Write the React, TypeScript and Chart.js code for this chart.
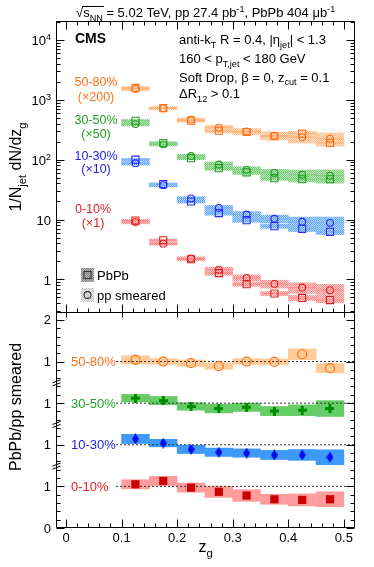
import React, { useEffect, useRef } from "react";
import { Chart, registerables } from "chart.js";

Chart.register(...registerables);

// ---------------- data ----------------
const BIN_CENTERS = [0.125, 0.175, 0.225, 0.275, 0.325, 0.375, 0.425, 0.475];
const BIN_WIDTH = 0.05;
const X_TICKS = [0, 0.1, 0.2, 0.3, 0.4, 0.5];

const CENT_LABELS = ["0-10%", "10-30%", "30-50%", "50-80%"];
const SCALE_LABELS = ["(×1)", "(×10)", "(×50)", "(×200)"];
const SCALE_FACTORS = [1, 10, 50, 200];

// 1/Njet dN/dzg (unscaled)
const PBPB_0_10 = [9.6, 4.5, 2.17, 1.27, 0.83, 0.58, 0.49, 0.45];
const PP_0_10 = [9.1, 3.95, 2.23, 1.45, 1.06, 0.84, 0.73, 0.66];
const PBPB_10_30 = [10.0, 3.9, 2.0, 1.28, 0.975, 0.774, 0.699, 0.623];
const PP_10_30 = [8.7, 3.75, 2.25, 1.56, 1.21, 1.03, 0.915, 0.88];
const PBPB_30_50 = [8.94, 3.8, 2.12, 1.44, 1.23, 0.98, 0.94, 0.94];
const PP_30_50 = [7.86, 3.6, 2.3, 1.66, 1.36, 1.2, 1.12, 1.08];
const PBPB_50_80 = [7.9, 3.64, 2.24, 1.52, 1.45, 1.23, 1.36, 0.95];
const PP_50_80 = [7.6, 3.6, 2.32, 1.71, 1.48, 1.26, 1.18, 1.12];

// relative systematic uncertainties (upper panel boxes)
const PBPB_SYS = [0.05, 0.05, 0.06, 0.08, 0.08, 0.08, 0.1, 0.1];
const PP_SYS = [0.07, 0.06, 0.07, 0.1, 0.12, 0.15, 0.2, 0.25];

// PbPb / pp smeared ratios
const RATIO_0_10 = [1.05, 1.13, 0.97, 0.87, 0.78, 0.69, 0.675, 0.69];
const RATIO_10_30 = [1.14, 1.04, 0.89, 0.82, 0.8, 0.755, 0.755, 0.7];
const RATIO_30_50 = [1.12, 1.06, 0.92, 0.87, 0.9, 0.81, 0.83, 0.87];
const RATIO_50_80 = [1.04, 1.0, 0.96, 0.89, 1.0, 0.99, 1.175, 0.84];

// ratio systematic half-heights
const RATIO_SYS_0_10 = [0.11, 0.11, 0.11, 0.135, 0.14, 0.12, 0.145, 0.18];
const RATIO_SYS_10_30 = [0.11, 0.09, 0.1, 0.1, 0.1, 0.11, 0.13, 0.18];
const RATIO_SYS_30_50 = [0.09, 0.1, 0.09, 0.105, 0.1, 0.11, 0.13, 0.19];
const RATIO_SYS_50_80 = [0.1, 0.07, 0.08, 0.075, 0.07, 0.07, 0.13, 0.11];

const RATIO_OFFSETS = [0, 1, 2, 3];
const RATIO_TICK_VALUES = [0, 1, 2, 3, 4, 5];
const RATIO_TICK_LABELS = ["0", "1", "1", "1", "1", "2"];
const RATIO_BREAKS = [1.5, 2.5, 3.5];

const LOG_TICK_VALUES = [1, 10, 100, 1000, 10000];
const LOG_TICK_BASES = ["1", "10", "10", "10", "10"];
const LOG_TICK_EXPS = ["", "", "2", "3", "4"];

// axis ranges
const X_MIN = -0.018;
const X_MAX = 0.52;
const UPPER_Y_MIN = 0.293;
const UPPER_Y_MAX = 20750;
const RATIO_MAX = 5.19;

const PBPB_DATA = [PBPB_0_10, PBPB_10_30, PBPB_30_50, PBPB_50_80];
const PP_DATA = [PP_0_10, PP_10_30, PP_30_50, PP_50_80];
const RATIO_DATA = [RATIO_0_10, RATIO_10_30, RATIO_30_50, RATIO_50_80];
const RATIO_SYS = [RATIO_SYS_0_10, RATIO_SYS_10_30, RATIO_SYS_30_50, RATIO_SYS_50_80];

// ---------------- layout / style ----------------
const W = 374;
const H = 567;
const AREA = { left: 56, right: 355, top: 21, bottom: 528 };
const UPPER_PX = 291;
const LOWER_PX = 216;
const FONT = '"Liberation Sans", Arial, Helvetica, sans-serif';

const STYLES = [
  { text: "#e02020", marker: "#e02020", dotA: "#ff8a8a", dotB: "#ffd0d0", line: "#ff8a8a", rBox: "#ff9c9c", rMarker: "#cc0000" },
  { text: "#2020e8", marker: "#2a2aff", dotA: "#59a3ff", dotB: "#bcd9ff", line: "#7fb4ff", rBox: "#3d9bf7", rMarker: "#0a0aee" },
  { text: "#22a022", marker: "#22a022", dotA: "#70c870", dotB: "#c6ebc6", line: "#7ccf7c", rBox: "#66cc66", rMarker: "#008a00" },
  { text: "#ff6e14", marker: "#ff6e14", dotA: "#ffb985", dotB: "#ffe3cc", line: "#ffb070", rBox: "#ffcc99", rMarker: "#ff6e14" },
];
// label baselines (pixels) for the upper-panel centrality captions
const UPPER_LABEL_POS = [
  { x: 93, y1: 213, y2: 227 },
  { x: 96, y1: 160, y2: 173 },
  { x: 96, y1: 124, y2: 138 },
  { x: 96, y1: 86, y2: 101 },
];

type Seg = { t: string; k?: "sub" | "sup"; over?: boolean };

function segFont(size: number, k: Seg["k"], weight: string) {
  const s = k ? size * 0.7 : size;
  return `${weight} ${s.toFixed(2)}px ${FONT}`;
}

function drawRich(
  ctx: CanvasRenderingContext2D,
  segs: Seg[],
  x: number,
  y: number,
  size: number,
  align: "left" | "center" | "right" = "left",
  color = "#000",
  weight = "normal"
) {
  ctx.save();
  ctx.fillStyle = color;
  ctx.strokeStyle = color;
  ctx.textBaseline = "alphabetic";
  ctx.textAlign = "left";
  let w = 0;
  const widths: number[] = [];
  for (const s of segs) {
    ctx.font = segFont(size, s.k, weight);
    const m = ctx.measureText(s.t).width;
    widths.push(m);
    w += m;
  }
  let cx = align === "center" ? x - w / 2 : align === "right" ? x - w : x;
  let o0: number | null = null;
  let o1 = 0;
  segs.forEach((s, i) => {
    ctx.font = segFont(size, s.k, weight);
    const dy = s.k === "sub" ? size * 0.3 : s.k === "sup" ? -size * 0.42 : 0;
    ctx.fillText(s.t, cx, y + dy);
    if (s.over) {
      if (o0 === null) o0 = cx;
      o1 = cx + widths[i];
    }
    cx += widths[i];
  });
  if (o0 !== null) {
    ctx.lineWidth = 1;
    ctx.beginPath();
    const oy = Math.round(y - size * 0.86) + 0.5;
    ctx.moveTo(o0 - 1, oy);
    ctx.lineTo(o1 + 1, oy);
    ctx.stroke();
  }
  ctx.restore();
}

function makePattern(a: string, b: string): CanvasPattern | string {
  const c = document.createElement("canvas");
  c.width = 2;
  c.height = 2;
  const g = c.getContext("2d")!;
  g.fillStyle = b;
  g.fillRect(0, 0, 2, 2);
  g.fillStyle = a;
  g.fillRect(0, 0, 1, 1);
  g.fillRect(1, 1, 1, 1);
  return g.createPattern(c, "repeat") || a;
}

function makeCross(color: string) {
  const c = document.createElement("canvas");
  c.width = 9;
  c.height = 9;
  const g = c.getContext("2d")!;
  g.fillStyle = color;
  g.fillRect(0, 3, 9, 3);
  g.fillRect(3, 0, 3, 9);
  return c;
}

function makeDiamond(color: string) {
  const c = document.createElement("canvas");
  c.width = 7;
  c.height = 11;
  const g = c.getContext("2d")!;
  g.fillStyle = color;
  g.beginPath();
  g.moveTo(3.5, 0);
  g.lineTo(7, 5.5);
  g.lineTo(3.5, 11);
  g.lineTo(0, 5.5);
  g.closePath();
  g.fill();
  return c;
}

const halfBinPx = (c: any) => {
  const s = c.chart.scales.x;
  return s ? Math.abs(s.getPixelForValue(BIN_WIDTH) - s.getPixelForValue(0)) / 2 : 14;
};

function buildDatasets(): any[] {
  const ds: any[] = [];
  CENT_LABELS.forEach((lab, i) => {
    const st = STYLES[i];
    const f = SCALE_FACTORS[i];
    const pat = makePattern(st.dotA, st.dotB);
    const pb = PBPB_DATA[i];
    const pp = PP_DATA[i];
    const barCommon = {
      type: "bar",
      xAxisID: "x",
      yAxisID: "yTop",
      grouped: false,
      barPercentage: 1,
      categoryPercentage: 1,
      borderWidth: 0,
      backgroundColor: pat,
    };
    ds.push({
      ...barCommon,
      label: `${lab} pp sys`,
      order: 6,
      data: BIN_CENTERS.map((x, j) => ({ x, y: [pp[j] * f * (1 - PP_SYS[j]), pp[j] * f * (1 + PP_SYS[j])] })),
    });
    ds.push({
      ...barCommon,
      label: `${lab} PbPb sys`,
      order: 5,
      data: BIN_CENTERS.map((x, j) => ({ x, y: [pb[j] * f * (1 - PBPB_SYS[j]), pb[j] * f * (1 + PBPB_SYS[j])] })),
    });
    const lineCommon = {
      type: "scatter",
      xAxisID: "x",
      yAxisID: "yTop",
      order: 4,
      pointStyle: "line",
      pointRadius: halfBinPx,
      pointBorderColor: st.line,
      pointBorderWidth: 1,
    };
    ds.push({ ...lineCommon, label: `${lab} PbPb xerr`, data: BIN_CENTERS.map((x, j) => ({ x, y: pb[j] * f })) });
    ds.push({ ...lineCommon, label: `${lab} pp xerr`, data: BIN_CENTERS.map((x, j) => ({ x, y: pp[j] * f })) });
    ds.push({
      type: "scatter",
      label: `${lab} PbPb`,
      xAxisID: "x",
      yAxisID: "yTop",
      order: 1,
      pointStyle: "rect",
      pointRadius: 5,
      pointBorderColor: st.marker,
      pointBackgroundColor: "rgba(0,0,0,0)",
      pointBorderWidth: 1.1,
      data: BIN_CENTERS.map((x, j) => ({ x, y: pb[j] * f })),
    });
    ds.push({
      type: "scatter",
      label: `${lab} pp smeared`,
      xAxisID: "x",
      yAxisID: "yTop",
      order: 1,
      pointStyle: "circle",
      pointRadius: 3.4,
      pointBorderColor: st.marker,
      pointBackgroundColor: "rgba(0,0,0,0)",
      pointBorderWidth: 1.1,
      data: BIN_CENTERS.map((x, j) => ({ x, y: pp[j] * f })),
    });

    // ratio panel
    const off = RATIO_OFFSETS[i];
    const r = RATIO_DATA[i];
    const rs = RATIO_SYS[i];
    ds.push({
      type: "bar",
      label: `${lab} ratio sys`,
      xAxisID: "x",
      yAxisID: "yRatio",
      grouped: false,
      barPercentage: 1,
      categoryPercentage: 1,
      borderWidth: 0,
      backgroundColor: st.rBox,
      order: 6,
      data: BIN_CENTERS.map((x, j) => ({ x, y: [off + r[j] - rs[j], off + r[j] + rs[j]] })),
    });
    ds.push({
      type: "line",
      label: `${lab} unity`,
      xAxisID: "x",
      yAxisID: "yRatio",
      order: 3,
      borderColor: "#333",
      borderWidth: 1,
      borderDash: [2, 2],
      pointRadius: 0,
      fill: false,
      data: [
        { x: 0.09, y: off + 1 },
        { x: X_MAX, y: off + 1 },
      ],
    });
    let markerOpts: any;
    if (i === 0) {
      markerOpts = { pointStyle: "rect", pointRadius: 5.8, pointBackgroundColor: st.rMarker, pointBorderColor: st.rMarker, pointBorderWidth: 0 };
    } else if (i === 1) {
      markerOpts = { pointStyle: makeDiamond(st.rMarker), pointRadius: 5 };
    } else if (i === 2) {
      markerOpts = { pointStyle: makeCross(st.rMarker), pointRadius: 5 };
    } else {
      markerOpts = { pointStyle: "circle", pointRadius: 4.5, pointBackgroundColor: "rgba(0,0,0,0)", pointBorderColor: st.rMarker, pointBorderWidth: 1.2 };
    }
    ds.push({
      type: "scatter",
      label: `${lab} ratio`,
      xAxisID: "x",
      yAxisID: "yRatio",
      order: 0,
      ...markerOpts,
      data: BIN_CENTERS.map((x, j) => ({ x, y: off + r[j] })),
    });
  });
  return ds;
}

const decorPlugin = {
  id: "decor",
  afterDraw(chart: any) {
    const ctx: CanvasRenderingContext2D = chart.ctx;
    const { left, right, top, bottom } = chart.chartArea;
    const xs = chart.scales.x;
    const yt = chart.scales.yTop;
    const yr = chart.scales.yRatio;
    const split = Math.round(yr.getPixelForValue(RATIO_MAX));
    const L = Math.round(left) + 0.5;
    const R = Math.round(right) - 0.5;
    const T = Math.round(top) + 0.5;
    const B = Math.round(bottom) - 0.5;
    const S = split + 0.5;
    const px = (v: number) => Math.round(v) + 0.5;

    ctx.save();
    ctx.strokeStyle = "#000";
    ctx.lineWidth = 1;
    ctx.beginPath();
    // frames
    ctx.rect(L, T, R - L, S - T);
    ctx.rect(L, S, R - L, B - S);
    // x ticks
    for (let k = 0; k <= 25; k++) {
      const v = k * 0.02;
      const X = px(xs.getPixelForValue(v));
      const major = k % 5 === 0;
      const len = major ? 8 : 4;
      ctx.moveTo(X, T);
      ctx.lineTo(X, T + len);
      ctx.moveTo(X, S);
      ctx.lineTo(X, S - len);
      if (major) {
        ctx.moveTo(X, S);
        ctx.lineTo(X, S + 5);
      }
      ctx.moveTo(X, B);
      ctx.lineTo(X, B - len);
    }
    // upper log ticks
    for (let e = -1; e <= 4; e++) {
      for (let m = 1; m <= 9; m++) {
        const v = m * Math.pow(10, e);
        if (v < UPPER_Y_MIN || v > UPPER_Y_MAX) continue;
        const Y = px(yt.getPixelForValue(v));
        if (Y <= T || Y >= S) continue;
        const len = m === 1 ? 8 : 4;
        ctx.moveTo(L, Y);
        ctx.lineTo(L + len, Y);
        ctx.moveTo(R, Y);
        ctx.lineTo(R - len, Y);
      }
    }
    // ratio ticks
    for (let k = 0; k <= 26; k++) {
      const v = k * 0.2;
      if (v > RATIO_MAX) continue;
      const Y = px(yr.getPixelForValue(v));
      const len = k % 5 === 0 ? 8 : 4;
      ctx.moveTo(L, Y);
      ctx.lineTo(L + len, Y);
      ctx.moveTo(R, Y);
      ctx.lineTo(R - len, Y);
    }
    ctx.stroke();

    // axis breaks
    ctx.beginPath();
    RATIO_BREAKS.forEach((v) => {
      const Y = yr.getPixelForValue(v);
      ctx.moveTo(L - 4, Y + 0.5);
      ctx.lineTo(L + 4, Y - 2.5);
      ctx.moveTo(L - 4, Y + 3.5);
      ctx.lineTo(L + 4, Y + 0.5);
    });
    ctx.stroke();
    ctx.restore();

    // tick labels
    X_TICKS.forEach((v) => {
      drawRich(ctx, [{ t: v === 0 ? "0" : v.toFixed(1) }], xs.getPixelForValue(v), 542, 13, "center");
    });
    LOG_TICK_VALUES.forEach((v, i) => {
      const Y = yt.getPixelForValue(v);
      const segs: Seg[] = [{ t: LOG_TICK_BASES[i] }];
      if (LOG_TICK_EXPS[i]) segs.push({ t: LOG_TICK_EXPS[i], k: "sup" });
      drawRich(ctx, segs, 51, Y + 5.5, 13, "right");
    });
    RATIO_TICK_VALUES.forEach((v, i) => {
      const Y = yr.getPixelForValue(v);
      drawRich(ctx, [{ t: RATIO_TICK_LABELS[i] }], 51, Y + 4.5, 13, "right");
    });

    // axis titles
    ctx.save();
    ctx.translate(21, 167);
    ctx.rotate(-Math.PI / 2);
    drawRich(ctx, [{ t: "1/N" }, { t: "jet", k: "sub" }, { t: " dN/dz" }, { t: "g", k: "sub" }], 0, 0, 16, "center");
    ctx.restore();
    ctx.save();
    ctx.translate(21, 407);
    ctx.rotate(-Math.PI / 2);
    drawRich(ctx, [{ t: "PbPb/pp smeared" }], 0, 0, 16, "center");
    ctx.restore();
    drawRich(ctx, [{ t: "z" }, { t: "g", k: "sub" }], (left + right) / 2, 552, 16, "center");

    // header
    drawRich(
      ctx,
      [
        { t: "√" },
        { t: "s", over: true },
        { t: "NN", k: "sub", over: true },
        { t: " = 5.02 TeV, pp 27.4 pb" },
        { t: "-1", k: "sup" },
        { t: ", PbPb 404 μb" },
        { t: "-1", k: "sup" },
      ],
      76,
      17,
      13
    );
    drawRich(ctx, [{ t: "CMS" }], 75, 43, 14, "left", "#000", "bold");
    drawRich(ctx, [{ t: "anti-k" }, { t: "T", k: "sub" }, { t: " R = 0.4, |η" }, { t: "jet", k: "sub" }, { t: "| < 1.3" }], 179, 44, 13);
    drawRich(ctx, [{ t: "160 < p" }, { t: "T,jet", k: "sub" }, { t: " < 180 GeV" }], 179, 63, 13);
    drawRich(ctx, [{ t: "Soft Drop, β = 0, z" }, { t: "cut", k: "sub" }, { t: " = 0.1" }], 179, 81.5, 13);
    drawRich(ctx, [{ t: "ΔR" }, { t: "12", k: "sub" }, { t: " > 0.1" }], 179, 98, 13);

    // centrality captions (upper)
    CENT_LABELS.forEach((lab, i) => {
      const p = UPPER_LABEL_POS[i];
      drawRich(ctx, [{ t: lab }], p.x, p.y1, 12.5, "center", STYLES[i].text);
      drawRich(ctx, [{ t: SCALE_LABELS[i] }], p.x, p.y2, 12.5, "center", STYLES[i].text);
    });
    // centrality captions (ratio)
    CENT_LABELS.forEach((lab, i) => {
      const Y = yr.getPixelForValue(RATIO_OFFSETS[i] + 1);
      drawRich(ctx, [{ t: lab }], 71, Y + 4.5, 13, "left", STYLES[i].text);
    });

    // legend
    ctx.save();
    ctx.fillStyle = makePattern("#8a8a8a", "#b4b4b4") as any;
    ctx.fillRect(81, 268, 13, 14);
    ctx.fillStyle = makePattern("#c4c4c4", "#e8e8e8") as any;
    ctx.fillRect(81, 288, 13, 14);
    ctx.strokeStyle = "#333";
    ctx.lineWidth = 1.1;
    ctx.strokeRect(84, 271.5, 7, 7);
    ctx.beginPath();
    ctx.arc(87.5, 295, 3.4, 0, Math.PI * 2);
    ctx.stroke();
    ctx.restore();
    drawRich(ctx, [{ t: "PbPb" }], 97, 280, 13);
    drawRich(ctx, [{ t: "pp smeared" }], 97, 300, 13);
  },
};

export default function App() {
  const ref = useRef<HTMLCanvasElement>(null);
  useEffect(() => {
    const canvas = ref.current;
    if (!canvas) return;
    const logMin = Math.log10(UPPER_Y_MIN);
    const logMax = Math.log10(UPPER_Y_MAX);
    const fullLogMin = logMin - (LOWER_PX * (logMax - logMin)) / UPPER_PX;
    const fullRatioMax = (RATIO_MAX * (UPPER_PX + LOWER_PX)) / LOWER_PX;
    const chart = new Chart(canvas, {
      type: "scatter",
      data: { datasets: buildDatasets() },
      options: {
        animation: false,
        responsive: false,
        devicePixelRatio: 1,
        events: [],
        layout: { padding: { left: AREA.left, right: W - AREA.right, top: AREA.top, bottom: H - AREA.bottom } },
        plugins: { legend: { display: false }, tooltip: { enabled: false } },
        scales: {
          x: {
            type: "linear",
            min: X_MIN,
            max: X_MAX,
            offset: false,
            display: false,
            afterBuildTicks: (s: any) => {
              s.ticks = X_TICKS.map((v) => ({ value: v }));
            },
          },
          yTop: {
            type: "logarithmic",
            position: "left",
            min: Math.pow(10, fullLogMin),
            max: UPPER_Y_MAX,
            beginAtZero: false,
            display: false,
          },
          yRatio: {
            type: "linear",
            position: "left",
            min: 0,
            max: fullRatioMax,
            beginAtZero: false,
            display: false,
          },
        },
      } as any,
      plugins: [decorPlugin],
    } as any);
    return () => chart.destroy();
  }, []);
  return (
    <div style={{ position: "absolute", left: 0, top: 0, width: W, height: H, background: "#fff" }}>
      <canvas ref={ref} width={W} height={H} style={{ display: "block", width: W, height: H }} />
    </div>
  );
}
